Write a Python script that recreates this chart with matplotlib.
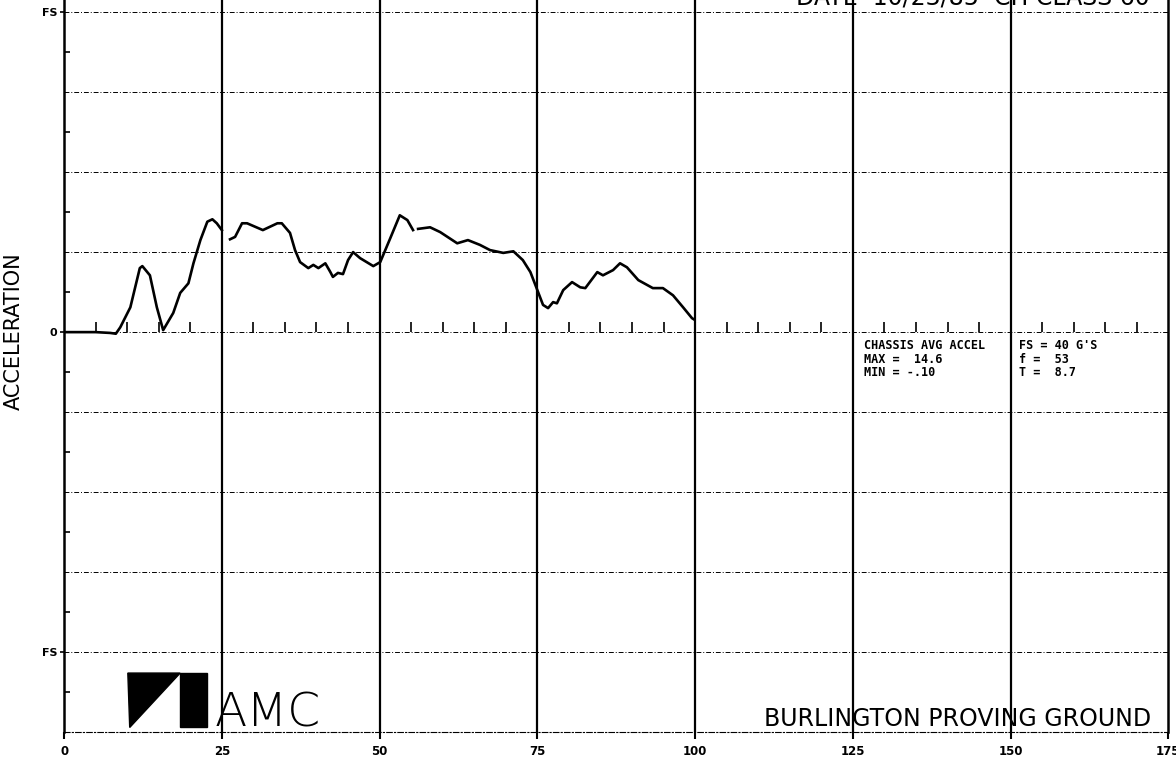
import numpy as np
import matplotlib
matplotlib.use('Agg')
import matplotlib.pyplot as plt
from matplotlib.patches import Polygon, Rectangle

# datos (tiempo en ms, aceleracion en G)
nan = np.nan
tiempo = [0, 5, 7.3, 8.2, 8.9, 10.5, 12.0, 12.4, 13.6, 14.7, 15.7, 17.3, 18.4, 19.7, 20.5,
          21.6, 22.7, 23.5, 24.2, 25.0, nan, 26.3, 27.1, 28.2, 29.0, 31.5, 33.8, 34.5, 35.8,
          36.6, 37.4, 38.7, 39.5, 40.3, 41.4, 42.2, 42.6, 43.4, 44.2, 45.0, 45.8, 46.9, 49.0,
          50.1, 51.7, 53.2, 54.4, 55.3, nan, 56.1, 58.0, 59.6, 62.3, 64.0, 65.9, 67.5, 69.6,
          71.2, 72.7, 73.9, 75.0, 75.9, 76.7, 77.5, 78.1, 79.1, 80.5, 81.8, 82.6, 84.5, 85.4,
          87.0, 88.1, 89.2, 91.0, 93.3, 94.9, 96.5, 98.1, 99.5, 99.8]
acel = [0, 0, -0.1, -0.2, 0.6, 3.1, 8.0, 8.25, 7.1, 3.1, 0.25, 2.4, 4.9, 6.1, 8.6,
        11.5, 13.8, 14.1, 13.6, 12.75, nan, 11.6, 11.9, 13.6, 13.6, 12.75, 13.6, 13.6, 12.4,
        10.25, 8.75, 8.0, 8.4, 8.0, 8.6, 7.5, 6.9, 7.4, 7.25, 9.0, 10.0, 9.25, 8.25,
        8.75, 11.75, 14.6, 14.0, 12.75, nan, 12.9, 13.1, 12.5, 11.1, 11.5, 10.9, 10.25, 9.9,
        10.1, 9.0, 7.5, 5.25, 3.4, 3.0, 3.75, 3.6, 5.25, 6.25, 5.6, 5.5, 7.5, 7.1,
        7.75, 8.6, 8.1, 6.5, 5.5, 5.5, 4.6, 3.1, 1.75, 1.6]

x_ticks = [0, 25, 50, 75, 100, 125, 150, 175]
y_ticks = [-40, 0, 40]
y_labels = ['FS', '0', 'FS']
info_izq = 'CHASSIS AVG ACCEL\nMAX =  14.6\nMIN = -.10'
info_der = "FS = 40 G'S\nf =  53\nT =  8.7"

fig = plt.figure(figsize=(11.76, 7.62), dpi=100)
ax = fig.add_axes([0.0545, 0.039, 0.939, 0.961])
ax.set_xlim(0, 175)
ax.set_ylim(-50, 41.5)

# rejilla: horizontales punteadas, verticales solidas
for yy in np.arange(-40, 41, 10):
  ax.axhline(yy, color='black', lw=0.7, ls=(0, (5, 2, 1, 2)), zorder=1)
for xx in x_ticks[1:-1]:
  ax.axvline(xx, color='black', lw=1.6, zorder=1)

# marcas sobre la linea de cero
ax.vlines(np.arange(5, 175, 5), 0, 1.3, color='black', lw=1.2, zorder=1)

ax.plot(tiempo, acel, color='black', lw=1.9, zorder=3)

ax.spines['top'].set_visible(False)
ax.spines['left'].set_linewidth(1.8)
ax.spines['right'].set_linewidth(1.8)
ax.spines['bottom'].set_linewidth(0.8)
ax.spines['bottom'].set_linestyle((0, (5, 2, 1, 2)))

ax.set_xticks(x_ticks)
ax.set_xticklabels([str(v) for v in x_ticks], fontsize=8.5, fontweight='bold')
ax.tick_params(axis='x', length=5, width=1.5, pad=4)
ax.set_yticks(y_ticks)
ax.set_yticklabels(y_labels, fontsize=8, fontweight='bold')
ax.set_yticks(np.arange(-45, 40, 10), minor=True)
ax.tick_params(axis='y', which='major', length=3, width=1.2, pad=2)
ax.tick_params(axis='y', which='minor', direction='in', length=4, width=1.2)

fig.text(0.012, 0.565, 'ACCELERATION', rotation=90, fontsize=15, va='center', ha='center')

# titulo cortado arriba (asi aparece en el original)
ax.text(172, 40.9, 'DATE  10/23/85  CH CLASS 60', fontsize=17, ha='right', va='baseline',
        clip_on=False)

# cuadro de informacion
ax.text(126.7, -0.9, info_izq, fontsize=8.5, family='DejaVu Sans Mono', fontweight='bold',
        va='top', linespacing=1.05)
ax.text(151.3, -0.9, info_der, fontsize=8.5, family='DejaVu Sans Mono', fontweight='bold',
        va='top', linespacing=1.05)

# logo AMC
ax.add_patch(Polygon([[10.1, -42.6], [18.4, -42.6], [10.4, -49.4]], closed=True,
                     color='black', zorder=4))
ax.add_patch(Rectangle((18.4, -49.4), 4.3, 6.8, color='black', zorder=4))
ax.text(23.8, -49.3, 'AMC', fontsize=34, fontweight='light', va='baseline', ha='left',
        family='DejaVu Sans', zorder=4)

ax.text(172.3, -49.2, 'BURLINGTON PROVING GROUND', fontsize=17, ha='right', va='baseline',
        zorder=4)

fig.savefig('out.png', dpi=100)
